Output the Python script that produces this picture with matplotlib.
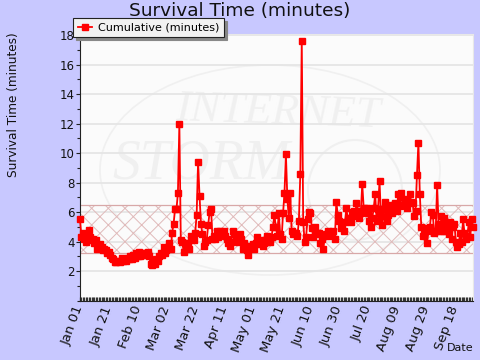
import matplotlib
matplotlib.use("Agg")
import matplotlib.pyplot as plt
from matplotlib.patches import Ellipse
from matplotlib.ticker import MultipleLocator, FixedLocator, FixedFormatter
plt.rcParams['hatch.linewidth'] = 0.7
plt.rcParams['hatch.color'] = '#e0baba'

title = "Survival Time (minutes)"
ylabel = "Survival Time (minutes)"
xlabel = "Date"
series_name = "Cumulative (minutes)"
tick_days = [0, 20, 40, 60, 80, 100, 120, 140, 160, 180, 200, 220, 240, 260]
tick_labels = ["Jan 01", "Jan 21", "Feb 10", "Mar 02", "Mar 22", "Apr 11", "May 01",
               "May 21", "Jun 10", "Jun 30", "Jul 20", "Aug 09", "Aug 29", "Sep 18"]
band_low = 3.25
band_high = 6.45

values_jan = [5.5,4.3,4.6,4.2,4.0,4.4,4.8,4.3,4.1,4.2,3.9,4.1,3.5,3.7,3.8,3.6,3.4,3.5,3.4,3.2]
values_feb = [3.3,3.1,2.9,2.8,2.6,2.6,2.7,2.7,2.6,2.9,2.7,2.8,2.7,2.9,2.8,3.0,2.8,3.1,2.9,3.2]
values_mar = [3.0,3.3,3.0,3.1,3.2,3.1,3.2,3.3,3.0,2.5,2.4,2.6,2.5,2.8,2.7,3.0,3.2,3.1,3.6,3.2]
values_mar2 = [3.4,3.6,3.9,3.5,4.6,5.2,6.2,6.2,7.3,11.95,4.1,4.0,3.3,3.9,3.6,3.9,3.5,4.4,4.2,4.1]
values_apr = [4.6,5.8,9.4,7.1,5.2,4.5,3.7,4.0,4.1,5.1,6.0,6.2,4.2,4.4,4.2,4.7,4.3,4.7,4.6,4.5]
values_apr2 = [4.7,4.4,4.2,3.9,3.7,4.0,4.7,4.5,4.1,4.2,4.0,4.5,4.2,3.5,3.9,3.7,3.4,3.1,3.6,3.7]
values_may = [3.8,3.5,3.9,4.3,4.0,3.8,4.1,3.7,3.9,4.0,4.4,4.1,4.0,4.3,5.0,5.8,5.0,4.4,5.9,4.5]
values_jun = [4.2,5.9,7.3,9.9,6.9,5.6,7.3,4.7,4.5,4.6,4.6,4.4,5.4,8.6,17.6,5.3,4.0,4.3,5.5,6.0]
values_jun2 = [5.9,4.9,4.3,5.0,4.5,4.6,4.6,3.9,4.2,3.5,4.4,4.5,4.7,4.6,4.4,4.5,4.7,4.2,6.7,5.8]
values_jul = [5.4,4.9,5.1,4.7,5.3,6.3,5.4,5.6,5.3,6.0,6.1,5.7,6.6,6.1,5.6,5.9,7.9,6.3,6.1,6.3]
values_aug = [5.9,5.4,5.0,5.6,6.3,7.2,5.4,6.2,8.1,5.7,5.1,6.2,6.7,5.4,5.8,6.5,6.3,5.9,6.5,6.6]
values_aug2 = [6.1,7.2,6.4,7.3,6.5,6.5,6.9,6.3,6.7,7.2,6.7,6.6,5.7,6.1,8.5,10.7,7.2,5.0,4.4,4.5]
values_sep = [4.9,3.9,4.7,5.0,6.0,5.8,4.6,4.7,7.8,5.2,4.7,5.7,4.7,5.6,4.7,5.2,4.5,5.3,4.2,5.0]
values_sep2 = [5.2,4.0,3.6,3.8,4.6,4.0,5.5,4.6,4.2,4.4,5.3,4.3,5.5,5.0]
values = (values_jan + values_feb + values_mar + values_mar2 + values_apr + values_apr2 + values_may
          + values_jun + values_jun2 + values_jul + values_aug + values_aug2 + values_sep + values_sep2)
days = list(range(len(values)))

W, H = 480, 360
fig = plt.figure(figsize=(W/100, H/100), dpi=100, facecolor='#c8c8ff')
L, R, T, B = 80, 473, 34, 300.5
ax = fig.add_axes([L/W, 1-B/H, (R-L)/W, (B-T)/H], facecolor='#fbfbfb')
ax.set_xlim(0, (R-L)/1.44)
ax.set_ylim(0, 18.07)

# faint logo watermark, placed in pixel positions of the figure
wm = '#f0f0f0'
tr = fig.transFigure
def fx(px): return px / W
def fy(py): return 1 - py / H
ax.add_patch(Ellipse((fx(270), fy(170)), 340/W, 210/H, fill=False, ec=wm, lw=1.2, transform=tr, zorder=0.5))
ax.add_patch(Ellipse((fx(355), fy(190)), 94/W, 100/H, fill=False, ec=wm, lw=1.5, transform=tr, zorder=0.5))
ax.text(fx(175), fy(113), "INTERNET", transform=tr, fontsize=32, family='Liberation Serif', style='italic',
        color=wm, rotation=-2, va='center', ha='left', zorder=0.5)
ax.text(fx(112), fy(165), "STORM", transform=tr, fontsize=40, family='Liberation Serif', style='italic',
        color=wm, va='center', ha='left', zorder=0.5)

ax.set_axisbelow(True)
ax.yaxis.grid(True, color='#e4e4e4', lw=1.2)
ax.axhspan(band_low, band_high, facecolor='none', edgecolor='#e0baba', hatch='xx', lw=0, zorder=1)
ax.axhline(band_low, color='#d8a8a8', lw=0.9, zorder=1.1)
ax.axhline(band_high, color='#d8a8a8', lw=0.9, zorder=1.1)

ax.plot(days, values, color='#ff0000', lw=1.3, marker='s', ms=3.8, mec='#ff0000', zorder=3,
        label=series_name, clip_on=False)

ax.yaxis.set_major_locator(FixedLocator([2,4,6,8,10,12,14,16,18]))
ax.yaxis.set_minor_locator(MultipleLocator(1))
ax.tick_params(axis='y', which='major', length=3, width=0.8, labelsize=8.5, pad=1, color='#222222', labelcolor='#111111')
ax.tick_params(axis='y', which='minor', length=2, width=0.8, color='#222222')
ax.xaxis.set_major_locator(FixedLocator(tick_days))
ax.xaxis.set_major_formatter(FixedFormatter(tick_labels))
ax.xaxis.set_minor_locator(MultipleLocator(1))
ax.tick_params(axis='x', which='major', length=3, width=0.9, direction='in', labelsize=9.5, pad=4,
               color='#333333', labelcolor='#111111')
ax.tick_params(axis='x', which='minor', length=3, width=0.9, direction='in', color='#333333')
for lab in ax.get_xticklabels():
    lab.set_rotation(70)
    lab.set_rotation_mode('anchor')
    lab.set_ha('right')
    lab.set_va('center')
for s in ('top', 'right'):
    ax.spines[s].set_color('#e8e8e8')
for s in ('left', 'bottom'):
    ax.spines[s].set_linewidth(0.8)
    ax.spines[s].set_color('#222222')

fig.text(240/W, 1-11/H, title, fontsize=13.3, ha='center', va='center', color='#111111')
fig.text(14/W, 1-105/H, ylabel, fontsize=8.7, rotation=90, ha='center', va='center', color='#111111')
fig.text(460/W, 1-348/H, xlabel, fontsize=8, ha='center', va='center', color='#111111')

leg = ax.legend(loc='upper left', bbox_to_anchor=(73/W, 1-18/H), bbox_transform=fig.transFigure,
                fontsize=8, fancybox=False, framealpha=1, facecolor='#f2f2f2', edgecolor='#222222',
                shadow={'color': '#888888', 'alpha': 1, 'ox': 2, 'oy': -2},
                borderaxespad=0, borderpad=0.42, handlelength=1.3, handletextpad=0.55)
leg.get_frame().set_linewidth(0.8)
leg.set_zorder(10)

fig.savefig("out.png", dpi=100, facecolor=fig.get_facecolor())
